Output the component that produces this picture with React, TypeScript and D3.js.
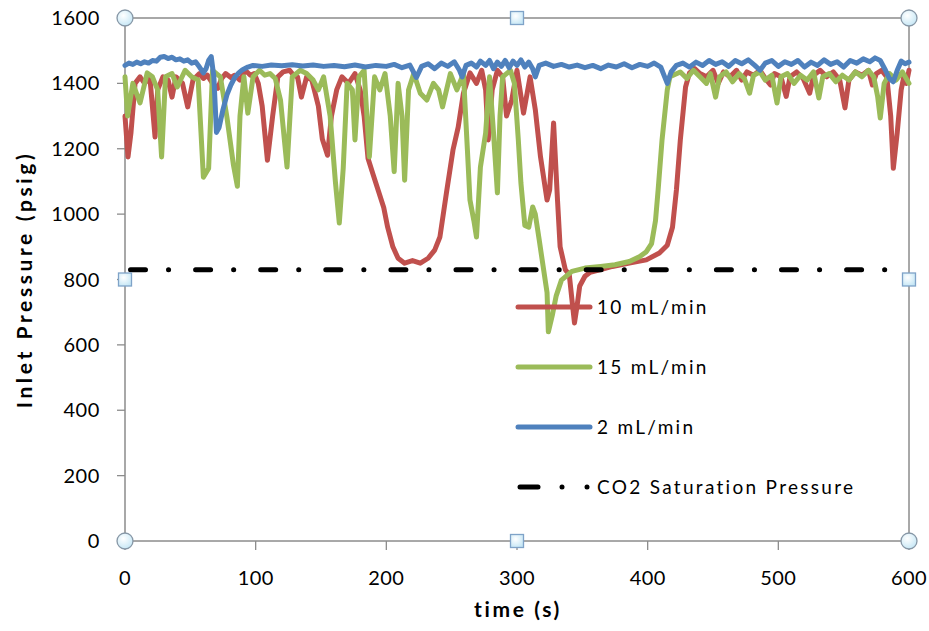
import React from "react";
import * as d3 from "d3";

type Pt = [number, number];

const xTicks = [0, 100, 200, 300, 400, 500, 600];
const yTicks = [0, 200, 400, 600, 800, 1000, 1200, 1400, 1600];

const legendLabels = ["10 mL/min", "15 mL/min", "2 mL/min", "CO2 Saturation Pressure"];

const co2Saturation = 830;

const flow10: Pt[] = [
  [0, 1300], [2.3, 1175], [4.6, 1250], [7.7, 1400], [11.5, 1420], [15, 1400], [19, 1420], [23, 1236], [25, 1380],
  [29, 1420], [33, 1410], [36, 1358], [39, 1420], [44, 1400], [48, 1328], [52, 1410], [57, 1430], [60, 1415],
  [63, 1425], [67, 1400], [71, 1385], [74, 1415], [77, 1430], [81, 1418], [84, 1425], [88, 1410], [92, 1440],
  [96, 1425], [99, 1430], [102, 1400], [105, 1330], [109, 1165], [113, 1300], [117, 1420], [121, 1435],
  [126, 1440], [129, 1425], [132, 1420], [135, 1358], [139, 1420], [143, 1410], [148, 1330], [151, 1230],
  [155, 1180], [158, 1300], [162, 1380], [166, 1420], [171, 1400], [176, 1430], [180, 1380], [183, 1300],
  [186, 1170], [190, 1120], [194, 1070], [198, 1020], [201, 960], [205, 900], [209, 865], [214, 850],
  [220, 858], [226, 850], [232, 865], [237, 890], [241, 930], [246, 1065], [251, 1196], [255, 1266],
  [259, 1370], [264, 1432], [269, 1400], [273, 1440], [276, 1380], [278, 1227], [281, 1380], [285, 1440],
  [289, 1420], [292, 1300], [296, 1349], [300, 1440], [305, 1309], [310, 1420], [314, 1320], [318, 1175],
  [323, 1043], [325, 1074], [328, 1279], [331, 1043], [333, 900], [337, 830], [340, 815], [342, 740],
  [344, 667], [346, 720], [348, 780], [352, 810], [356, 822], [364, 830], [373, 840], [386, 850],
  [399, 860], [409, 881], [415, 905], [419, 960], [422, 1074], [425, 1227], [429, 1389], [432, 1432],
  [436, 1445], [440, 1430], [445, 1420], [450, 1440], [454, 1400], [458, 1435], [463, 1420], [468, 1440],
  [472, 1410], [476, 1435], [481, 1425], [486, 1440], [490, 1415], [494, 1395], [497, 1430], [502, 1420],
  [506, 1360], [509, 1420], [514, 1435], [519, 1415], [524, 1370], [527, 1425], [532, 1440], [537, 1420],
  [542, 1435], [547, 1410], [551, 1325], [554, 1410], [559, 1435], [564, 1425], [569, 1440], [572, 1395],
  [575, 1430], [579, 1440], [583, 1420], [586, 1300], [588, 1140], [591, 1250], [594, 1380], [596, 1420],
  [598, 1400], [600, 1440],
];

const flow15: Pt[] = [
  [0, 1420], [2, 1300], [6, 1400], [11.5, 1340], [17, 1432], [21, 1420], [25, 1380], [28, 1175], [31, 1420],
  [36, 1430], [40, 1389], [46, 1440], [51, 1420], [56, 1410], [60, 1113], [64, 1140], [67, 1440], [73, 1420],
  [78, 1297], [83, 1150], [86, 1085], [88, 1300], [91, 1420], [94, 1309], [98, 1420], [103, 1440],
  [107, 1425], [111, 1430], [115, 1415], [119, 1349], [124, 1144], [128, 1420], [134, 1440], [139, 1430],
  [144, 1410], [148, 1380], [152, 1420], [157, 1300], [161, 1100], [164, 973], [167, 1140], [170, 1400],
  [174, 1380], [176, 1227], [179, 1420], [183, 1440], [187, 1175], [191, 1420], [195, 1380], [199, 1430],
  [203, 1300], [206, 1130], [209, 1400], [212, 1300], [214, 1104], [217, 1380], [221, 1430], [226, 1370],
  [231, 1349], [236, 1400], [240, 1380], [243, 1328], [249, 1430], [254, 1380], [259, 1430], [262, 1200],
  [264, 1043], [267, 980], [269, 930], [272, 1144], [276, 1248], [279, 1420], [282, 1250], [285, 1065],
  [287, 1300], [289, 1420], [295, 1440], [298, 1400], [301, 1227], [303, 1095], [306, 965], [309, 960],
  [312, 1022], [314, 1000], [317, 921], [320, 840], [323, 760], [324, 640], [327, 690], [330, 750],
  [334, 798], [342, 825], [352, 835], [364, 840], [375, 845], [386, 855], [394, 870], [399, 885],
  [403, 910], [406, 980], [408, 1074], [411, 1227], [415, 1380], [417, 1420], [425, 1435], [430, 1415],
  [435, 1440], [440, 1420], [445, 1400], [448, 1430], [452, 1358], [455, 1420], [460, 1435], [465, 1405],
  [470, 1430], [474, 1415], [478, 1370], [481, 1425], [486, 1435], [490, 1410], [495, 1425], [499, 1340],
  [502, 1420], [507, 1430], [512, 1400], [517, 1425], [522, 1410], [527, 1435], [531, 1355], [534, 1420],
  [539, 1430], [544, 1405], [549, 1425], [554, 1410], [559, 1435], [564, 1420], [569, 1440], [573, 1420],
  [576, 1360], [578, 1294], [581, 1400], [585, 1430], [590, 1410], [595, 1435], [600, 1400],
];

const flow2: Pt[] = [
  [0, 1455], [3, 1462], [6, 1458], [9, 1465], [12, 1460], [15, 1466], [18, 1462], [21, 1470], [24, 1468],
  [27, 1480], [30, 1482], [33, 1476], [36, 1480], [39, 1472], [42, 1475], [45, 1468], [48, 1472], [51, 1462],
  [54, 1466], [57, 1450], [60, 1432], [62, 1445], [64, 1470], [66, 1482], [68, 1420], [70, 1250], [72, 1265],
  [75, 1320], [78, 1365], [81, 1395], [84, 1418], [87, 1432], [90, 1442], [94, 1450], [98, 1455], [105, 1452],
  [112, 1456], [120, 1454], [128, 1457], [136, 1453], [144, 1456], [152, 1452], [160, 1455], [168, 1451],
  [176, 1456], [184, 1450], [192, 1455], [200, 1452], [206, 1458], [212, 1448], [218, 1456], [223, 1418],
  [227, 1452], [232, 1460], [237, 1445], [242, 1462], [247, 1452], [252, 1466], [256, 1440], [258, 1420],
  [261, 1455], [265, 1462], [269, 1450], [272, 1468], [276, 1455], [279, 1470], [282, 1445], [285, 1465],
  [288, 1452], [291, 1470], [294, 1448], [297, 1468], [300, 1455], [303, 1472], [306, 1450], [309, 1465],
  [312, 1445], [314, 1420], [317, 1455], [322, 1462], [328, 1452], [334, 1458], [340, 1450], [346, 1456],
  [352, 1448], [358, 1455], [364, 1445], [370, 1456], [376, 1450], [382, 1460], [388, 1448], [394, 1458],
  [400, 1452], [405, 1462], [410, 1450], [413, 1420], [415, 1400], [418, 1435], [422, 1455], [427, 1462],
  [432, 1450], [437, 1465], [442, 1455], [447, 1470], [452, 1458], [457, 1466], [462, 1452], [467, 1470],
  [472, 1460], [477, 1472], [482, 1455], [486, 1440], [490, 1462], [495, 1470], [500, 1452], [505, 1466],
  [510, 1458], [515, 1470], [520, 1450], [525, 1465], [530, 1455], [535, 1472], [540, 1458], [545, 1466],
  [550, 1450], [555, 1470], [560, 1462], [565, 1475], [570, 1466], [574, 1478], [578, 1470], [582, 1440],
  [585, 1415], [588, 1405], [591, 1440], [594, 1468], [597, 1460], [600, 1465],
];

const W = 929;
const H = 631;
const M = { left: 125, right: 20, top: 18, bottom: 90 };
const FONT = "Lato, 'Open Sans', sans-serif";

const RED = "#C0504D";
const GREEN = "#9BBB59";
const BLUE = "#4F81BD";

export default function App() {
  const x = d3.scaleLinear().domain([0, 600]).range([M.left, W - M.right]);
  const y = d3.scaleLinear().domain([0, 1600]).range([H - M.bottom, M.top]);
  const line = d3
    .line<Pt>()
    .x((d) => x(d[0]))
    .y((d) => y(d[1]));

  const x0 = x(0);
  const x1 = x(600);
  const y0 = y(0);
  const y1 = y(1600);
  const xm = (x0 + x1) / 2;
  const ym = (y0 + y1) / 2;

  const series = [
    { data: flow10, color: RED },
    { data: flow15, color: GREEN },
    { data: flow2, color: BLUE },
  ];

  const dash = "15 23 0.1 27";
  const legendX = 518;
  const legendY = [307, 367, 427, 487];
  const legendColors = [RED, GREEN, BLUE];

  const circ = (cx: number, cy: number, k: string) => (
    <circle key={k} cx={cx} cy={cy} r={8} fill="url(#hg)" stroke="#8797a6" strokeWidth={1.3} />
  );
  const sq = (cx: number, cy: number, k: string) => (
    <rect key={k} x={cx - 6.5} y={cy - 6.5} width={13} height={13} fill="url(#hg)" stroke="#7fa3c8" strokeWidth={1.3} />
  );

  return (
    <svg
      width={W}
      height={H}
      style={{ position: "absolute", left: 0, top: 0, background: "#fff" }}
      fontFamily={FONT}
    >
      <defs>
        <radialGradient id="hg" cx="40%" cy="35%" r="70%">
          <stop offset="0%" stopColor="#ffffff" />
          <stop offset="100%" stopColor="#c4e6f5" />
        </radialGradient>
      </defs>

      {/* plot frame */}
      <rect x={x0} y={y1} width={x1 - x0} height={y0 - y1} fill="none" stroke="#8c8c8c" strokeWidth={1.5} />

      {/* y ticks */}
      {yTicks.map((t) => (
        <g key={"y" + t}>
          <line x1={x0 - 8} x2={x0} y1={y(t)} y2={y(t)} stroke="#8c8c8c" strokeWidth={1.3} />
          <text x={x0 - 25} y={y(t)} dy="0.35em" textAnchor="end" fontSize={20} letterSpacing={0.6} fill="#000">
            {t}
          </text>
        </g>
      ))}
      {/* x ticks */}
      {xTicks.map((t) => (
        <g key={"x" + t}>
          <line x1={x(t)} x2={x(t)} y1={y0} y2={y0 + 9} stroke="#8c8c8c" strokeWidth={1.3} />
          <text x={x(t)} y={y0 + 37} dy="0.35em" textAnchor="middle" fontSize={20} letterSpacing={0.4} fill="#000">
            {t}
          </text>
        </g>
      ))}

      {/* series */}
      {series.map((s, i) => (
        <path
          key={i}
          d={line(s.data) || ""}
          fill="none"
          stroke={s.color}
          strokeWidth={5}
          strokeLinejoin="round"
          strokeLinecap="round"
        />
      ))}
      <line
        x1={x(0)}
        x2={x(600)}
        y1={y(co2Saturation)}
        y2={y(co2Saturation)}
        stroke="#000"
        strokeWidth={5}
        strokeLinecap="round"
        strokeDasharray={dash}
        strokeDashoffset={59.6}
      />

      {/* legend */}
      {legendLabels.map((lab, i) => (
        <g key={lab}>
          {i < 3 ? (
            <line
              x1={legendX}
              x2={legendX + 72}
              y1={legendY[i]}
              y2={legendY[i]}
              stroke={legendColors[i]}
              strokeWidth={5}
              strokeLinecap="round"
            />
          ) : (
            <g>
              <line x1={legendX + 2} x2={legendX + 20} y1={legendY[i]} y2={legendY[i]} stroke="#000" strokeWidth={5} strokeLinecap="round" />
              <circle cx={legendX + 44} cy={legendY[i]} r={2.5} fill="#000" />
              <circle cx={legendX + 69} cy={legendY[i]} r={2.5} fill="#000" />
            </g>
          )}
          <text x={legendX + 79} y={legendY[i]} dy="0.35em" fontSize={19} letterSpacing={2.3} fill="#000">
            {lab}
          </text>
        </g>
      ))}

      {/* axis titles */}
      <text x={xm + 1} y={610} dy="0.35em" textAnchor="middle" fontSize={21} letterSpacing={2.6} fontWeight="bold">
        time (s)
      </text>
      <text
        transform={`translate(25, ${ym}) rotate(-90)`}
        dy="0.35em"
        textAnchor="middle"
        fontSize={21}
        letterSpacing={3.6}
        fontWeight="bold"
      >
        Inlet Pressure (psig)
      </text>

      {/* selection handles */}
      {circ(x0, y1, "c1")}
      {circ(x1, y1, "c2")}
      {circ(x0, y0, "c3")}
      {circ(x1, y0, "c4")}
      {sq(xm, y1, "s1")}
      {sq(xm, y0, "s2")}
      {sq(x0, ym, "s3")}
      {sq(x1, ym, "s4")}
    </svg>
  );
}
